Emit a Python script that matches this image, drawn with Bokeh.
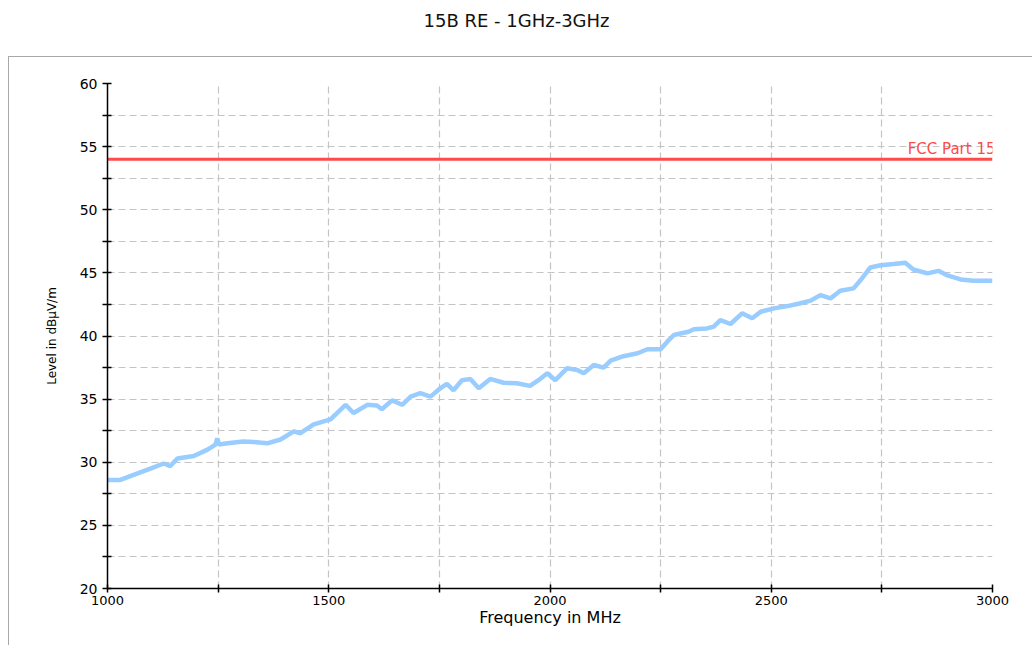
from bokeh.plotting import figure
from bokeh.models import (Range1d, FixedTicker, Title, Label, InlineStyleSheet)
from bokeh.embed import file_html
from bokeh.resources import INLINE

# ---- data ----
title_text = "15B RE - 1GHz-3GHz"
x_label = "Frequency in MHz"
y_label = "Level in dBµV/m"

freq_mhz = [1000, 1029, 1059, 1097, 1127, 1142, 1158, 1195, 1226, 1244, 1248, 1252,
            1271, 1307, 1330, 1361, 1391, 1421, 1436, 1466, 1504, 1538, 1556, 1587,
            1609, 1620, 1643, 1666, 1685, 1707, 1730, 1752, 1767, 1782, 1801, 1820,
            1839, 1865, 1895, 1925, 1955, 1974, 1994, 2012, 2039, 2062, 2076, 2099,
            2121, 2137, 2166, 2198, 2220, 2250, 2265, 2280, 2313, 2325, 2355, 2370,
            2385, 2408, 2434, 2457, 2476, 2506, 2537, 2566, 2589, 2611, 2634, 2656,
            2686, 2702, 2724, 2747, 2777, 2803, 2821, 2853, 2878, 2898, 2928, 2957,
            3000]
level_dbuv = [28.6, 28.6, 29.0, 29.5, 29.9, 29.7, 30.3, 30.5, 31.0, 31.4, 31.9, 31.4,
              31.5, 31.65, 31.6, 31.5, 31.8, 32.45, 32.3, 33.0, 33.4, 34.55, 33.9, 34.55,
              34.5, 34.2, 34.9, 34.55, 35.2, 35.47, 35.2, 35.86, 36.2, 35.7, 36.5, 36.6,
              35.86, 36.6, 36.3, 36.26, 36.05, 36.5, 37.05, 36.5, 37.45, 37.3, 37.05, 37.7,
              37.5, 38.05, 38.4, 38.63, 38.95, 38.95, 39.55, 40.08, 40.34, 40.53, 40.6, 40.74,
              41.26, 40.95, 41.8, 41.4, 41.92, 42.19, 42.37, 42.59, 42.8, 43.24, 42.98, 43.58,
              43.77, 44.43, 45.43, 45.6, 45.7, 45.8, 45.27, 44.96, 45.16, 44.8, 44.48, 44.37,
              44.37]

limit_name = "FCC Part 15"
limit_freq = [1000, 3000]
limit_level = [54, 54]

x_major_ticks = [1000, 1500, 2000, 2500, 3000]
x_minor_ticks = [1250, 1750, 2250, 2750]
y_major_ticks = [20, 25, 30, 35, 40, 45, 50, 55, 60]
y_minor_ticks = [22.5, 27.5, 32.5, 37.5, 42.5, 47.5, 52.5, 57.5]

FONT = "DejaVu Sans"
GRID = "#c4c4c4"

panel_css = InlineStyleSheet(css="""
:host { position: relative; }
:host::after {
  content: "";
  position: absolute;
  left: 8px; top: 56px; right: -20px; bottom: -20px;
  border: 1.5px solid #a8a8a8;
  pointer-events: none;
}
""")

p = figure(width=1016, height=629, output_backend="svg", toolbar_location=None,
           x_range=Range1d(1000, 3000), y_range=Range1d(20, 60),
           min_border_left=107, min_border_right=24, min_border_top=83,
           min_border_bottom=40, background_fill_color="white",
           border_fill_color="white", stylesheets=[panel_css])
p.outline_line_color = None

# spacer nearest the frame, real title outermost
p.add_layout(Title(text=" ", text_font_size="2px", standoff=44), "above")
p.title.text = title_text
p.title.text_font = FONT
p.title.text_font_size = "18px"
p.title.text_font_style = "normal"
p.title.text_color = "#111111"
p.title.align = "left"
p.title.offset = 316
p.title.standoff = 10

for ax in (p.xaxis[0], p.yaxis[0]):
    ax.axis_line_color = "black"
    ax.axis_line_width = 1.5
    ax.major_tick_line_color = "black"
    ax.minor_tick_line_color = "black"
    ax.major_tick_line_width = 1.5
    ax.minor_tick_line_width = 1.5
    ax.major_label_text_font = FONT
    ax.major_label_text_color = "black"
    ax.axis_label_text_font = FONT
    ax.axis_label_text_font_style = "normal"
    ax.axis_label_text_color = "black"

p.xaxis.ticker = FixedTicker(ticks=x_major_ticks, minor_ticks=x_minor_ticks)
p.yaxis.ticker = FixedTicker(ticks=y_major_ticks, minor_ticks=y_minor_ticks)
p.xaxis.major_tick_in = 4
p.xaxis.major_tick_out = 4
p.xaxis.minor_tick_in = 4
p.xaxis.minor_tick_out = 4
p.yaxis.major_tick_in = 4
p.yaxis.major_tick_out = 5
p.yaxis.minor_tick_in = 4
p.yaxis.minor_tick_out = 5
p.xaxis.major_label_text_font_size = "13px"
p.yaxis.major_label_text_font_size = "14px"
p.xaxis.major_label_standoff = 3
p.yaxis.major_label_standoff = 5
p.xaxis.axis_label = x_label
p.xaxis.axis_label_text_font_size = "16px"
p.xaxis.axis_label_standoff = 0
p.yaxis.axis_label = y_label
p.yaxis.axis_label_text_font_size = "12px"
p.yaxis.axis_label_standoff = 18

for g in (p.xgrid[0], p.ygrid[0]):
    g.grid_line_color = GRID
    g.grid_line_dash = "7 4"
    g.grid_line_width = 1.2
    g.minor_grid_line_color = GRID
    g.minor_grid_line_dash = "7 4"
    g.minor_grid_line_width = 1.2

p.line(freq_mhz, level_dbuv, line_color="#99ccff", line_width=4.5)
p.line(limit_freq, limit_level, line_color="#ff4a4a", line_width=3)
p.add_layout(Label(x=limit_freq[-1], y=limit_level[-1], text=limit_name,
                   text_align="right", text_baseline="bottom", y_offset=1,
                   x_offset=3, text_font=FONT, text_font_size="15px",
                   text_color="#ff4a4a"))

open("out.html", "w").write(file_html(p, INLINE))
